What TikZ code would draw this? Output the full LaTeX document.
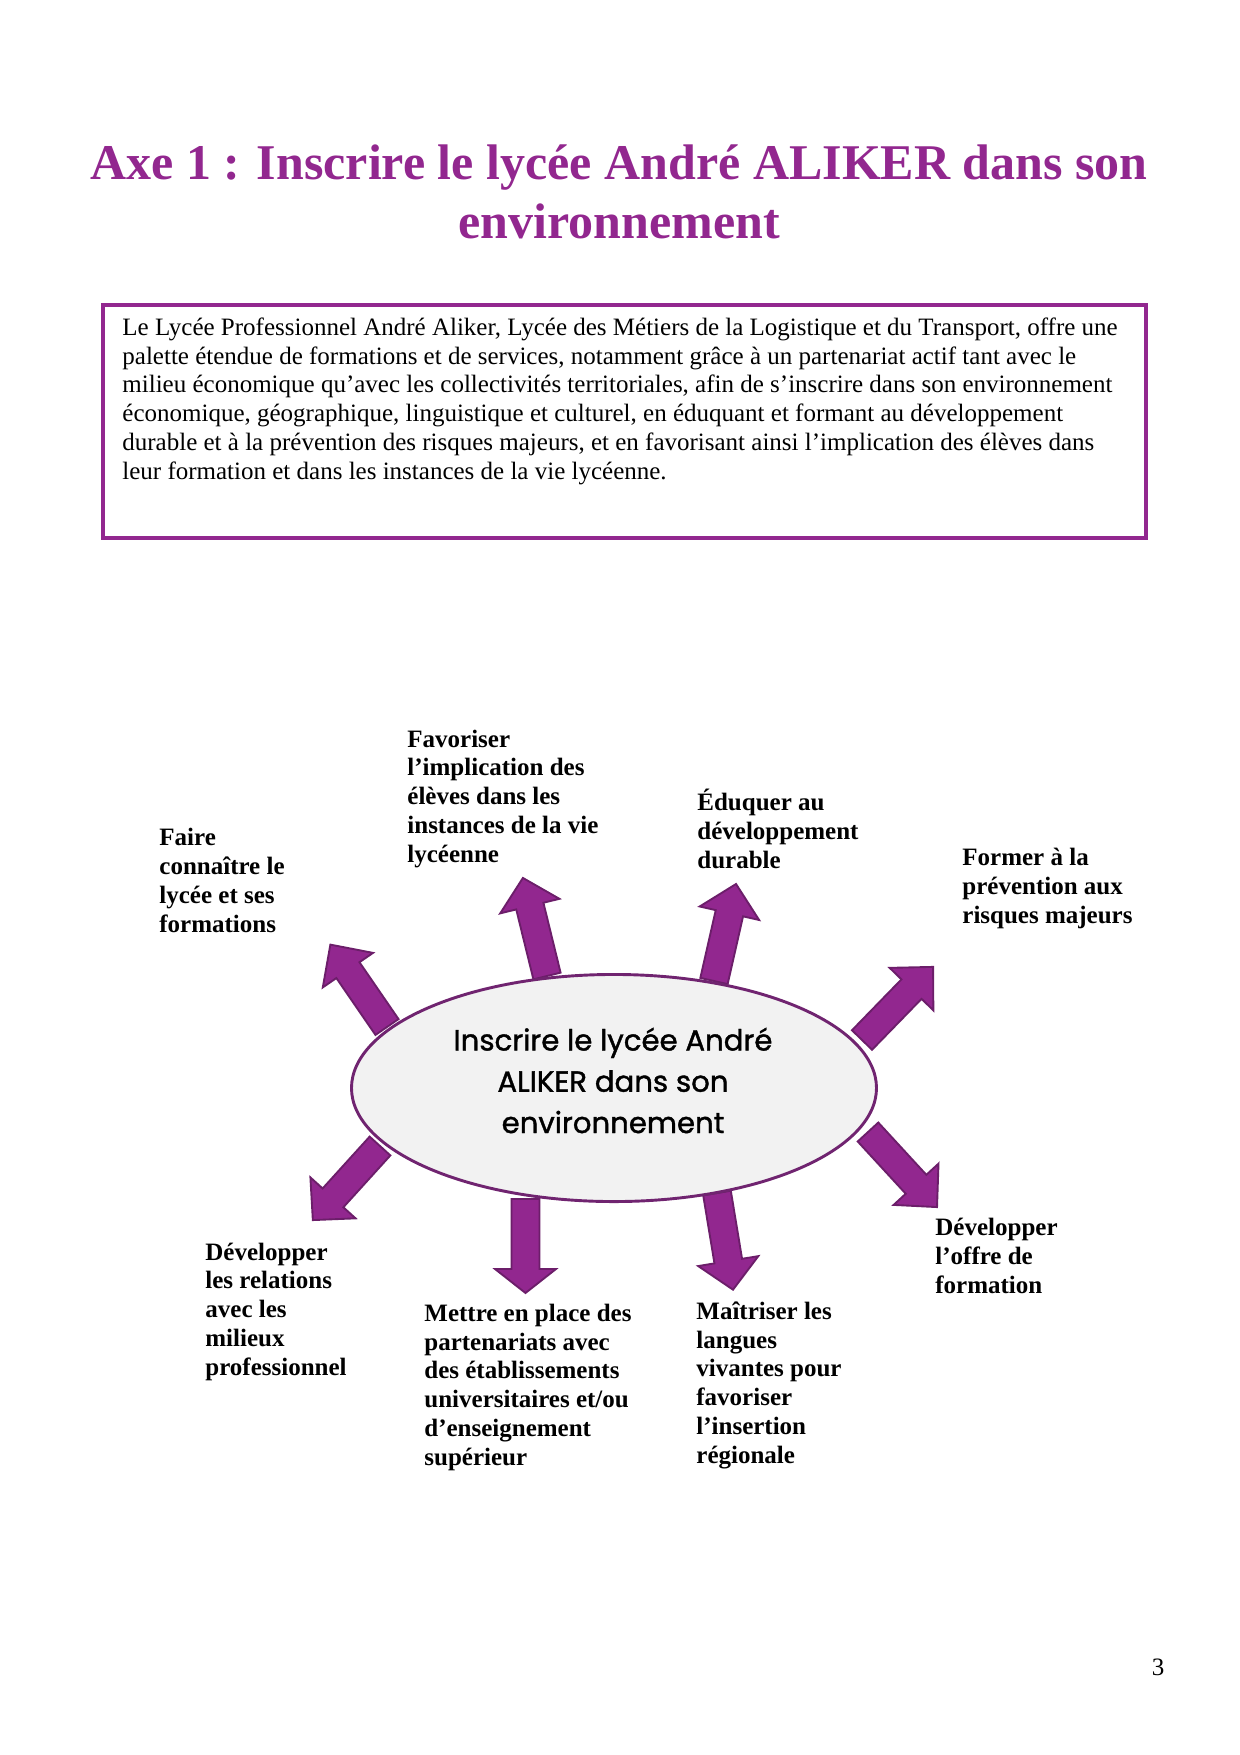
\documentclass[tikz,border=0pt]{standalone}
\usepackage{fontspec}
\setmainfont{Liberation Serif}
\newfontfamily\comicfont[FakeBold=1.3]{Poppins}
\usetikzlibrary{shapes.geometric}
\definecolor{axepurple}{RGB}{146,39,143}
\definecolor{arrowfill}{RGB}{146,39,143}
\definecolor{arrowedge}{RGB}{108,30,106}
\definecolor{ellgray}{RGB}{242,242,242}
\definecolor{elledge}{RGB}{112,36,112}
\tikzset{
  arrowshape/.style={fill=arrowfill, draw=arrowedge, line width=0.9pt, line join=miter},
  lbl/.style={anchor=base west, align=left, inner sep=0pt, font=\fontsize{12}{13.8}\selectfont\bfseries},
  boxline/.style={draw=axepurple, line width=1.5pt},
}
% #1 tail coordinate, #2 angle, #3 length, #4 head length
\newcommand\blockarrow[4]{%
  \begin{scope}[shift={(#1)}, rotate=#2]
    \draw[arrowshape] (0,-14) -- ({#3-#4},-14) -- ({#3-#4},-30.5) -- (#3,0)
      -- ({#3-#4},30.5) -- ({#3-#4},14) -- (0,14) -- cycle;
  \end{scope}}
\begin{document}
\begin{tikzpicture}[x=0.48pt, y=-0.48pt]
\useasboundingbox (0,0) rectangle (1240,1755);
% title (anchor = baseline of last line)
\node[anchor=base, align=center, inner sep=0pt, text=axepurple,
  font=\fontsize{24}{28}\selectfont\bfseries] (title) at (619,238)
  {Axe 1 : Inscrire le lycée André ALIKER dans son\\environnement};
% intro box
\draw[boxline] (103,305) rectangle (1146,538);
\node[anchor=base west, align=left, inner sep=0pt,
  font=\fontsize{12}{13.8}\selectfont] (intro) at (122,479)
  {Le Lycée Professionnel André Aliker, Lycée des Métiers de la Logistique et du Transport, offre une\\
   palette étendue de formations et de services, notamment grâce à un partenariat actif tant avec le\\
   milieu économique qu’avec les collectivités territoriales, afin de s’inscrire dans son environnement\\
   économique, géographique, linguistique et culturel, en éduquant et formant au développement\\
   durable et à la prévention des risques majeurs, et en favorisant ainsi l’implication des élèves dans\\
   leur formation et dans les instances de la vie lycéenne.};
% arrow tails
\coordinate (tA) at (387,1027);
\coordinate (tB) at (547,976);
\coordinate (tC) at (714,981);
\coordinate (tD) at (862,1040);
\coordinate (tE) at (380,1146);
\coordinate (tF) at (525.5,1199);
\coordinate (tG) at (717,1193);
\coordinate (tH) at (868,1132);
\blockarrow{tA}{124.5}{100}{31}
\blockarrow{tB}{103.8}{101}{29}
\blockarrow{tC}{77.2}{99.5}{30}
\blockarrow{tD}{45.8}{102}{31}
\blockarrow{tE}{-132.2}{100}{30}
\blockarrow{tF}{-90}{94}{24}
\blockarrow{tG}{-80.6}{98}{29}
\blockarrow{tH}{-47.4}{102}{31}
% central ellipse
\node[ellipse, draw=elledge, fill=ellgray, line width=1.4pt, inner sep=0pt,
  minimum width=252pt, minimum height=109pt] (center) at (614,1088) {};
\node[anchor=base, align=center, inner sep=0pt,
  font=\comicfont\fontsize{14}{19.8}\selectfont] (ctext) at (613,1133)
  {Inscrire le lycée André\\ALIKER dans son\\environnement};
% labels (anchor = baseline of last line)
\node[lbl] (faire) at (159,932) {Faire\\connaître le\\lycée et ses\\formations};
\node[lbl] (favoriser) at (407,862) {Favoriser\\l’implication des\\élèves dans les\\instances de la vie\\lycéenne};
\node[lbl] (eduquer) at (697,868) {Éduquer au\\développement\\durable};
\node[lbl] (former) at (962,923) {Former à la\\prévention aux\\risques majeurs};
\node[lbl] (relations) at (205,1375) {Développer\\les relations\\avec les\\milieux\\professionnel};
\node[lbl] (mettre) at (424,1465) {Mettre en place des\\partenariats avec\\des établissements\\universitaires et/ou\\d’enseignement\\supérieur};
\node[lbl] (maitriser) at (696,1463) {Maîtriser les\\langues\\vivantes pour\\favoriser\\l’insertion\\régionale};
\node[lbl] (offre) at (935,1293) {Développer\\l’offre de\\formation};
% page number
\node[anchor=base, inner sep=0pt, font=\fontsize{12}{13.8}\selectfont] (pnum) at (1158,1675) {3};
\end{tikzpicture}
\end{document}
